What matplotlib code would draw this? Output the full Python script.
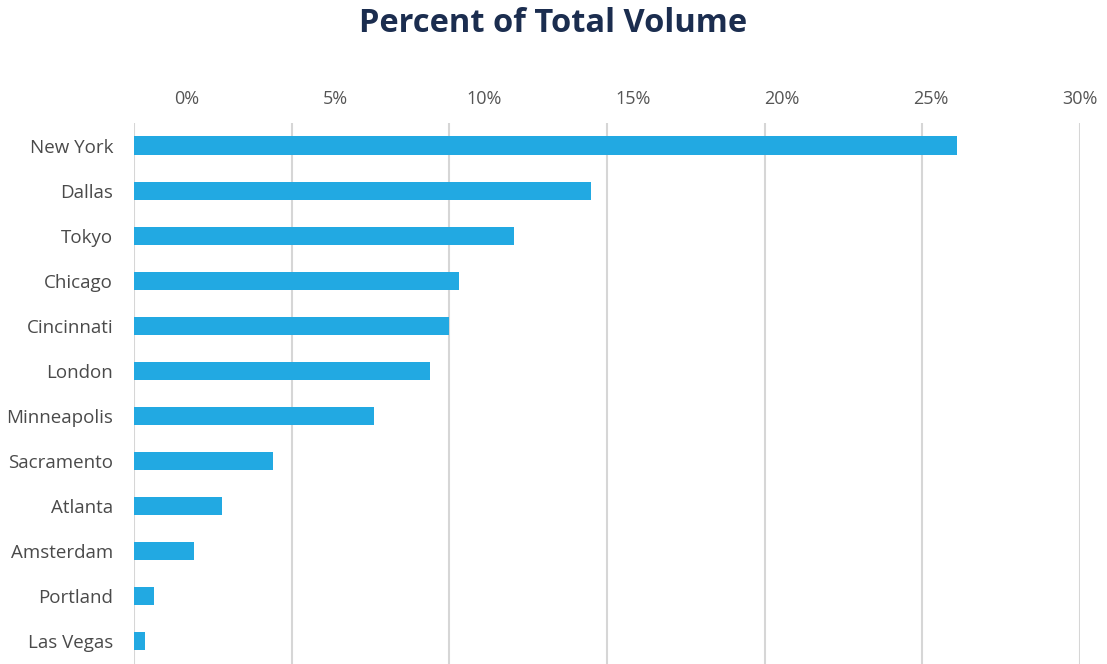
import matplotlib.pyplot as plt

cities = ['New York', 'Dallas', 'Tokyo', 'Chicago', 'Cincinnati', 'London',
          'Minneapolis', 'Sacramento', 'Atlanta', 'Amsterdam', 'Portland', 'Las Vegas']
share = [26.1, 14.5, 12.05, 10.3, 10.0, 9.4, 7.6, 4.4, 2.8, 1.9, 0.65, 0.35]
tick_vals = [0, 5, 10, 15, 20, 25, 30]
tick_labels = ['0%', '5%', '10%', '15%', '20%', '25%', '30%']

plt.rcParams['font.family'] = ['Open Sans', 'DejaVu Sans']

fig = plt.figure(figsize=(11.07, 6.64), dpi=100)
ax = fig.add_axes([0.121, 0.0, 0.8546, 0.8148])

y = list(range(len(cities)))
ax.barh(y, share, height=0.4, color='#22a9e2', zorder=3)
ax.set_ylim(len(cities) - 0.5, -0.5)
ax.set_xlim(0, 30)
ax.set_yticks(y)
ax.set_yticklabels(cities, fontsize=13.5, color='#4a4a4a')
ax.tick_params(axis='y', length=0, pad=15)
ax.set_xticks(tick_vals)
ax.tick_params(axis='x', length=0, labelbottom=False)
ax.grid(axis='x', color='#d6d6d6', linewidth=1.5, zorder=0)
for s in ax.spines.values():
    s.set_visible(False)

# percentage labels along the top, spaced a little wider than the grid
top = ax.twiny()
top.set_xlim(-1.774, 29.9)
top.set_xticks(tick_vals)
top.set_xticklabels(tick_labels, fontsize=13, color='#555555')
top.tick_params(axis='x', length=0, pad=10.5)
for s in top.spines.values():
    s.set_visible(False)

fig.suptitle('Percent of Total Volume', x=0.5, y=0.99, fontsize=23.5,
             fontweight='bold', color='#1b2d4f')

fig.savefig('out.png', dpi=100)
